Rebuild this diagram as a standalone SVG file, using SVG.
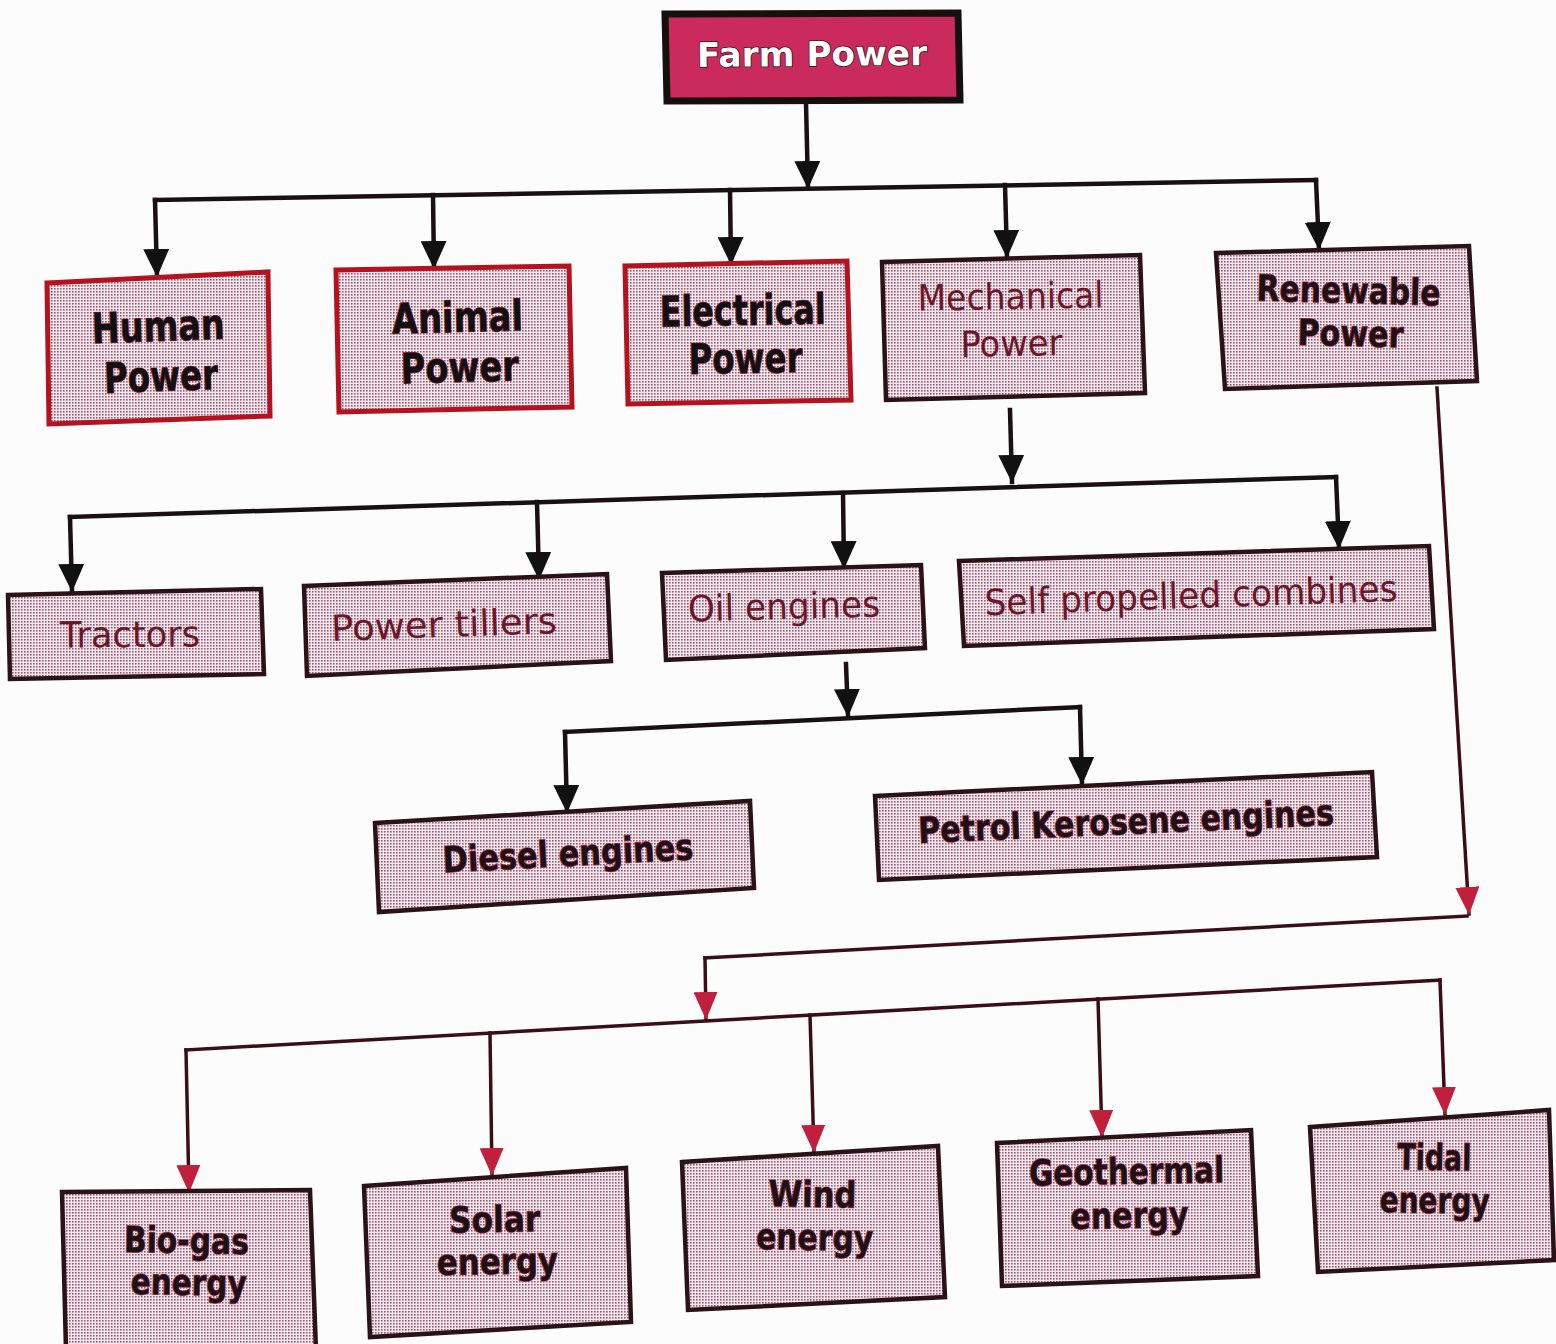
<svg xmlns="http://www.w3.org/2000/svg" width="1556" height="1344" viewBox="0 0 1556 1344">
<defs>
<pattern id="dots" width="3" height="3" patternUnits="userSpaceOnUse">
<rect width="3" height="3" fill="#f2e8ee"/>
<rect x="0" y="0" width="1.6" height="1.6" fill="#9a5a72"/>
</pattern>
<marker id="ab" markerUnits="userSpaceOnUse" markerWidth="28" markerHeight="26" viewBox="0 0 28 26" refX="27" refY="13" orient="auto">
<path d="M0,0 L28,13 L0,26 Z" fill="#111"/>
</marker>
<marker id="ar" markerUnits="userSpaceOnUse" markerWidth="28" markerHeight="24" viewBox="0 0 28 24" refX="27" refY="12" orient="auto">
<path d="M0,0 L28,12 L0,24 Z" fill="#c0203c"/>
</marker>
<style>
.bg{fill:#fdfcfc}
.red{fill:url(#dots);stroke:#b4121f;stroke-width:5;stroke-linejoin:miter}
.dark{fill:url(#dots);stroke:#2a1218;stroke-width:4.5;stroke-linejoin:miter}
.top{fill:#cb2a5c;stroke:#141010;stroke-width:7}
.c{fill:none;stroke:#1a1013;stroke-width:4.5;stroke-linecap:square}
.cr{fill:none;stroke:#3a0e18;stroke-width:3.5;stroke-linecap:square}
.t{font-family:"DejaVu Sans","Liberation Sans",sans-serif;text-anchor:middle}
.tw{fill:#fff;font-weight:bold;font-size:34px;stroke:#3a0a18;stroke-width:1.5;paint-order:stroke}
.tb{fill:#111;font-weight:bold;font-size:42px;stroke:#b02040;stroke-width:1.2;paint-order:stroke}
.tm{fill:#6e1628;font-size:36px}
.tk{fill:#1c1216;font-weight:bold;font-size:36px;stroke:#c03858;stroke-width:1.4;paint-order:stroke}
</style>
</defs>
<rect class="bg" x="0" y="0" width="1556" height="1344"/>

<g id="connectors">
<path class="c" d="M806,103 L808,188" marker-end="url(#ab)"/>
<path class="c" d="M155,200 L1316,180"/>
<path class="c" d="M155,200 L157,276" marker-end="url(#ab)"/>
<path class="c" d="M433,195 L434,268" marker-end="url(#ab)"/>
<path class="c" d="M730,190 L731,264" marker-end="url(#ab)"/>
<path class="c" d="M1005,185 L1007,257" marker-end="url(#ab)"/>
<path class="c" d="M1316,180 L1319,249" marker-end="url(#ab)"/>

<path class="c" d="M1010,410 L1012,482" marker-end="url(#ab)"/>
<path class="c" d="M70,517 L1336,477"/>
<path class="c" d="M70,517 L72,591" marker-end="url(#ab)"/>
<path class="c" d="M537,502 L539,579" marker-end="url(#ab)"/>
<path class="c" d="M843,493 L844,568" marker-end="url(#ab)"/>
<path class="c" d="M1336,477 L1339,548" marker-end="url(#ab)"/>

<path class="c" d="M846,664 L848,716" marker-end="url(#ab)"/>
<path class="c" d="M565,732 L1080,707"/>
<path class="c" d="M565,732 L567,812" marker-end="url(#ab)"/>
<path class="c" d="M1080,707 L1082,784" marker-end="url(#ab)"/>

<path class="cr" d="M1437,388 L1469,914" marker-end="url(#ar)"/>
<path class="cr" d="M1467,916 L705,958"/>
<path class="cr" d="M705,958 L706,1019" marker-end="url(#ar)"/>
<path class="cr" d="M186,1050 L1440,980"/>
<path class="cr" d="M186,1050 L189,1192" marker-end="url(#ar)"/>
<path class="cr" d="M490,1033 L492,1175" marker-end="url(#ar)"/>
<path class="cr" d="M810,1015 L814,1152" marker-end="url(#ar)"/>
<path class="cr" d="M1098,999 L1102,1137" marker-end="url(#ar)"/>
<path class="cr" d="M1440,980 L1445,1114" marker-end="url(#ar)"/>
</g>

<g id="farm-power">
<polygon class="top" points="665,14 958,13 960,100 667,101"/>
<text class="t tw" x="812" y="66" textLength="230" lengthAdjust="spacingAndGlyphs" transform="rotate(-0.5 812 55)">Farm Power</text>
</g>

<g id="human-power">
<polygon class="red" points="47,283 268,272 270,416 49,424"/>
<g transform="rotate(-2 159 350)">
<text class="t tb" x="159" y="341" textLength="133" lengthAdjust="spacingAndGlyphs">Human</text>
<text class="t tb" x="160" y="391" textLength="114" lengthAdjust="spacingAndGlyphs">Power</text>
</g>
</g>

<g id="animal-power">
<polygon class="red" points="336,270 569,266 572,407 339,412"/>
<g transform="rotate(-1.5 458 340)">
<text class="t tb" x="458" y="332" textLength="131" lengthAdjust="spacingAndGlyphs">Animal</text>
<text class="t tb" x="459" y="382" textLength="118" lengthAdjust="spacingAndGlyphs">Power</text>
</g>
</g>

<g id="electrical-power">
<polygon class="red" points="625,266 847,261 851,400 628,404"/>
<g transform="rotate(-1 743 330)">
<text class="t tb" x="743" y="325" textLength="166" lengthAdjust="spacingAndGlyphs">Electrical</text>
<text class="t tb" x="745" y="373" textLength="114" lengthAdjust="spacingAndGlyphs">Power</text>
</g>
</g>

<g id="mechanical-power">
<polygon class="dark" points="882,262 1140,255 1145,393 886,400"/>
<g transform="rotate(-1 1011 320)">
<text class="t tm" x="1011" y="309" textLength="186" lengthAdjust="spacingAndGlyphs">Mechanical</text>
<text class="t tm" x="1011" y="356" textLength="102" lengthAdjust="spacingAndGlyphs">Power</text>
</g>
</g>

<g id="renewable-power">
<polygon class="dark" points="1216,253 1469,246 1477,381 1225,389"/>
<g transform="rotate(1.5 1348 315)">
<text class="t tk" x="1348" y="303" textLength="184" lengthAdjust="spacingAndGlyphs">Renewable</text>
<text class="t tk" x="1351" y="346" textLength="106" lengthAdjust="spacingAndGlyphs">Power</text>
</g>
</g>

<g id="tractors">
<polygon class="dark" points="8,595 261,589 264,674 10,679"/>
<text class="t tm" x="130" y="647" textLength="140" lengthAdjust="spacingAndGlyphs" transform="rotate(-0.5 130 635)">Tractors</text>
</g>

<g id="power-tillers">
<polygon class="dark" points="304,586 607,574 611,661 307,676"/>
<text class="t tm" x="444" y="637" textLength="226" lengthAdjust="spacingAndGlyphs" transform="rotate(-2 444 625)">Power tillers</text>
</g>

<g id="oil-engines">
<polygon class="dark" points="662,573 921,565 925,648 666,660"/>
<text class="t tm" x="784" y="619" textLength="192" lengthAdjust="spacingAndGlyphs" transform="rotate(-1.5 784 607)">Oil engines</text>
</g>

<g id="self-propelled-combines">
<polygon class="dark" points="959,561 1429,546 1434,629 964,646"/>
<text class="t tm" x="1191" y="608" textLength="413" lengthAdjust="spacingAndGlyphs" transform="rotate(-2 1191 596)">Self propelled combines</text>
</g>

<g id="diesel-engines">
<polygon class="dark" points="375,823 750,801 754,888 379,912"/>
<text class="t tk" x="568" y="866" textLength="251" lengthAdjust="spacingAndGlyphs" transform="rotate(-3 568 855)">Diesel engines</text>
</g>

<g id="petrol-kerosene-engines">
<polygon class="dark" points="875,796 1372,772 1377,857 879,880"/>
<text class="t tk" x="1126" y="834" textLength="416" lengthAdjust="spacingAndGlyphs" transform="rotate(-2.5 1126 823)">Petrol Kerosene engines</text>
</g>

<g id="bio-gas-energy">
<polygon class="dark" points="62,1192 310,1190 316,1350 66,1350"/>
<g transform="rotate(1 187 1262)">
<text class="t tk" x="186" y="1253" textLength="125" lengthAdjust="spacingAndGlyphs">Bio-gas</text>
<text class="t tk" x="189" y="1295" textLength="116" lengthAdjust="spacingAndGlyphs">energy</text>
</g>
</g>

<g id="solar-energy">
<polygon class="dark" points="364,1186 626,1168 631,1322 370,1337"/>
<g transform="rotate(-1 496 1240)">
<text class="t tk" x="495" y="1232" textLength="91" lengthAdjust="spacingAndGlyphs">Solar</text>
<text class="t tk" x="497" y="1274" textLength="121" lengthAdjust="spacingAndGlyphs">energy</text>
</g>
</g>

<g id="wind-energy">
<polygon class="dark" points="682,1162 938,1146 945,1297 688,1310"/>
<g transform="rotate(1 813 1215)">
<text class="t tk" x="812" y="1207" textLength="88" lengthAdjust="spacingAndGlyphs">Wind</text>
<text class="t tk" x="815" y="1250" textLength="117" lengthAdjust="spacingAndGlyphs">energy</text>
</g>
</g>

<g id="geothermal-energy">
<polygon class="dark" points="997,1143 1251,1130 1258,1276 1002,1286"/>
<g transform="rotate(-1 1128 1195)">
<text class="t tk" x="1127" y="1184" textLength="195" lengthAdjust="spacingAndGlyphs">Geothermal</text>
<text class="t tk" x="1129" y="1228" textLength="118" lengthAdjust="spacingAndGlyphs">energy</text>
</g>
</g>

<g id="tidal-energy">
<polygon class="dark" points="1310,1127 1549,1110 1554,1260 1318,1272"/>
<g transform="rotate(1 1434 1180)">
<text class="t tk" x="1434" y="1170" textLength="74" lengthAdjust="spacingAndGlyphs">Tidal</text>
<text class="t tk" x="1435" y="1213" textLength="110" lengthAdjust="spacingAndGlyphs">energy</text>
</g>
</g>
</svg>
